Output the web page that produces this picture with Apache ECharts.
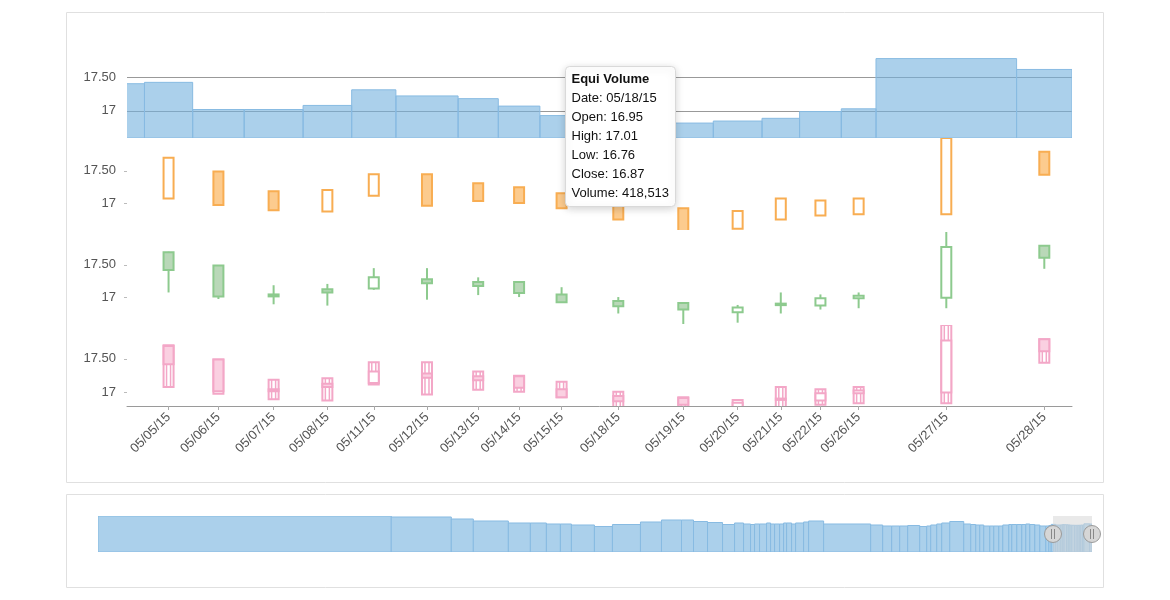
<!DOCTYPE html>
<html><head><meta charset="utf-8">
<script src="https://cdn.jsdelivr.net/npm/echarts@6/dist/echarts.min.js"></script>
<style>html,body{margin:0;padding:0;background:#fff}#c{width:1170px;height:600px}</style>
</head><body><div id="c"></div>
<script>
// ---------- data (visible period) ----------
const dates   = ['05/04/15','05/05/15','05/06/15','05/07/15','05/08/15','05/11/15','05/12/15','05/13/15','05/14/15','05/15/15','05/18/15','05/19/15','05/20/15','05/21/15','05/22/15','05/26/15','05/27/15','05/28/15'];
const opens   = [17.30,17.69,17.49,17.05,17.13,17.14,17.28,17.24,17.24,17.05,16.95,16.92,16.78,16.91,16.88,16.99,17.00,17.79];
const highs   = [17.55,17.70,17.49,17.19,17.21,17.45,17.45,17.31,17.25,17.16,17.01,16.93,16.89,17.08,17.05,17.08,18.00,17.79];
const lows    = [17.20,17.08,16.98,16.90,16.88,17.12,16.97,17.04,17.01,16.93,16.76,16.58,16.62,16.76,16.82,16.84,16.84,17.44];
const closes  = [17.40,17.42,17.02,17.02,17.08,17.31,17.22,17.18,17.07,16.93,16.87,16.82,16.85,16.89,16.99,17.03,17.77,17.61];
const volumes = [362000,288200,307900,352200,290600,264300,371900,240400,248700,259500,418513,358700,291200,224800,249300,207500,840700,331200];
// ---------- earlier history (navigator only) ----------
const histVolumes = [42485000,8700000,3190000,5075000,3190000,2320000,2030000,1595000,3335000,2610000,4060000,3045000,2900000,1740000,2030000,2175000,1740000,1305000,1015000,580000,725000,1015000,580000,580000,725000,580000,435000,725000,580000,1160000,725000,2175000,6815000,1740000,1305000,1160000,1160000,1740000,1015000,580000,870000,725000,1160000,2030000,1015000,725000,580000,580000,870000,580000,725000,580000,870000,435000,725000,725000,580000,580000,725000,725000,870000,435000,348000];
const histCloses  = [22.70,22.07,20.81,19.55,18.29,18.29,17.66,17.66,17.03,16.08,17.34,18.92,20.18,20.18,19.23,18.60,17.34,18.29,17.66,17.34,17.66,17.66,18.29,17.66,17.66,17.66,18.29,18.29,17.66,18.29,18.92,19.55,17.66,17.03,16.40,16.40,16.40,16.71,16.08,16.40,17.03,17.66,18.29,19.23,17.66,17.34,17.03,17.03,16.40,16.40,16.40,16.40,17.03,17.34,17.34,17.34,17.34,17.66,17.34,17.03,16.40,16.40,16.71];
const priceTicks = [17, 17.5];
const tipDate = '05/18/15';
const seriesTitle = 'Equi Volume';

// ---------- config ----------
const windowVolume = 5650000;
const paneRange = [[16.6,18.0],[16.6,18.0],[16.6,18.0],[16.8,18.0]];
const FONT = '"Liberation Sans", Arial, Helvetica, sans-serif';

// ---------- derived ----------
const allVol = histVolumes.concat(volumes);
const allClose = histCloses.concat(closes);
const starts = [], ends = [];
let cum = 0;
allVol.forEach(v => { starts.push(cum); cum += v; ends.push(cum); });
const total = cum;
const nH = histVolumes.length;
const xMax = total, xMin = total - windowVolume;
const centers = dates.map((d,i) => (starts[nH+i] + ends[nH+i]) / 2);
const visCenters = centers.filter(c => c > xMin && c < xMax);
const fmtTick = v => Number.isInteger(v) ? String(v) : v.toFixed(2);
const dateFmt = v => { let best = 0, bd = Infinity; centers.forEach((c,i)=>{const d=Math.abs(c-v); if(d<bd){bd=d;best=i;}}); return dates[best]; };

const BAR_FILL = 'rgba(115,177,222,0.6)', BAR_STROKE = '#88bbe2';
const OR_STROKE = '#f8ad52', OR_FILL = '#fccb8e';
const GR_STROKE = '#8dca8e', GR_FILL = '#b9d8b8';
const PK_STROKE = '#f3a7c7', PK_FILL = '#fad0e1';
const HW = 5; // half width of candles

const eqData = dates.map((d,i) => [starts[nH+i], ends[nH+i], closes[i]]);
const ohlcData = dates.map((d,i) => [centers[i], opens[i], highs[i], lows[i], closes[i], i>0 ? closes[i-1] : closes[i]]);
const navData = allVol.map((v,i) => [starts[i], ends[i], allClose[i]]);
const navMax = Math.max.apply(null, allClose);

function gridLines(params, api) {
  const v = api.value(0);
  const a = api.coord([xMin, v]), b = api.coord([xMax, v]);
  return {type:'line', shape:{x1:a[0], y1:Math.round(a[1])+0.5, x2:b[0], y2:Math.round(a[1])+0.5}, style:{stroke:'#999', lineWidth:1}};
}
function eqBar(base, fill, stroke) {
  return function(params, api) {
    const p0 = api.coord([api.value(0), api.value(2)]);
    const p1 = api.coord([api.value(1), base]);
    return {type:'rect', shape:{x:p0[0], y:p0[1], width:p1[0]-p0[0], height:p1[1]-p0[1]}, style:{fill:fill, stroke:stroke, lineWidth:1}};
  };
}
function orangeItem(params, api) {
  const x = api.coord([api.value(0), api.value(2)])[0];
  const yh = api.coord([api.value(0), api.value(2)])[1];
  const yl = api.coord([api.value(0), api.value(3)])[1];
  const up = api.value(4) > api.value(5);
  return {type:'rect', shape:{x:x-HW, y:yh, width:HW*2, height:yl-yh}, style:{fill: up ? '#fff' : OR_FILL, stroke:OR_STROKE, lineWidth:2}};
}
function greenItem(params, api) {
  const c = api.value(0);
  const x = api.coord([c, 0])[0];
  const yo = api.coord([c, api.value(1)])[1], yh = api.coord([c, api.value(2)])[1];
  const yl = api.coord([c, api.value(3)])[1], yc = api.coord([c, api.value(4)])[1];
  const up = api.value(4) >= api.value(1);
  const top = Math.min(yo, yc), bot = Math.max(yo, yc);
  return {type:'group', children:[
    {type:'line', shape:{x1:x, y1:yh, x2:x, y2:yl}, style:{stroke:GR_STROKE, lineWidth:2}},
    {type:'rect', shape:{x:x-HW, y:top, width:HW*2, height:Math.max(bot-top,1.5)}, style:{fill: up ? '#fff' : GR_FILL, stroke:GR_STROKE, lineWidth:2}}
  ]};
}
function pinkItem(params, api) {
  const c = api.value(0);
  const x = api.coord([c, 0])[0];
  const yo = api.coord([c, api.value(1)])[1], yh = api.coord([c, api.value(2)])[1];
  const yl = api.coord([c, api.value(3)])[1], yc = api.coord([c, api.value(4)])[1];
  const up = api.value(4) >= api.value(1);
  const top = Math.min(yo, yc), bot = Math.max(yo, yc);
  const ch = [
    {type:'rect', shape:{x:x-HW, y:yh, width:HW*2, height:yl-yh}, style:{fill:'#fff', stroke:PK_STROKE, lineWidth:2}},
    {type:'rect', shape:{x:x-HW, y:top, width:HW*2, height:bot-top}, style:{fill: up ? '#fff' : PK_FILL, stroke:PK_STROKE, lineWidth:2}}
  ];
  [[yh, top], [bot, yl]].forEach(seg => {
    if (seg[1] - seg[0] > 3) {
      [-2, 2].forEach(dx => ch.push({type:'line', shape:{x1:x+dx, y1:seg[0], x2:x+dx, y2:seg[1]}, style:{stroke:PK_STROKE, lineWidth:1.5}}));
    }
  });
  return {type:'group', children: ch};
}
function selItem(params, api) {
  const a = api.coord([api.value(0), navMax]), b = api.coord([api.value(1), 0]);
  const ym = (a[1] + b[1]) / 2;
  const handle = x => ({type:'group', children:[
    {type:'circle', shape:{cx:x, cy:ym, r:8.5}, style:{fill:'#d6d6d6', stroke:'#9a9a9a', lineWidth:1}},
    {type:'line', shape:{x1:x-1.5, y1:ym-5, x2:x-1.5, y2:ym+5}, style:{stroke:'#888', lineWidth:1}},
    {type:'line', shape:{x1:x+1.5, y1:ym-5, x2:x+1.5, y2:ym+5}, style:{stroke:'#888', lineWidth:1}}
  ]});
  return {type:'group', children:[
    {type:'rect', shape:{x:a[0], y:a[1], width:b[0]-a[0], height:b[1]-a[1]}, style:{fill:'rgba(215,215,215,0.55)'}},
    handle(a[0]), handle(b[0])
  ]};
}

function yAxis(gi, r, ticks) {
  return {gridIndex:gi, type:'value', min:r[0], max:r[1], axisLine:{show:false}, splitLine:{show:false},
    axisTick:{show:ticks, customValues:priceTicks, length:3, lineStyle:{color:'#bbb'}},
    axisLabel:{customValues:priceTicks, formatter:fmtTick, color:'#555', fontSize:13, fontFamily:FONT, margin:11}};
}
function hiddenX(gi) {
  return {gridIndex:gi, type:'value', min:xMin, max:xMax, show:false, splitLine:{show:false}};
}

const ti = dates.indexOf(tipDate);
const tipLines = [
  'Date: ' + dates[ti],
  'Open: ' + opens[ti].toFixed(2),
  'High: ' + highs[ti].toFixed(2),
  'Low: ' + lows[ti].toFixed(2),
  'Close: ' + closes[ti].toFixed(2),
  'Volume: ' + volumes[ti].toLocaleString('en-US')
];
const tipChildren = [
  {type:'rect', z:100, zlevel:1, shape:{x:0, y:0, width:110, height:140, r:4}, style:{fill:'#fff', stroke:'#d9d9d9', lineWidth:1, shadowBlur:8, shadowColor:'rgba(0,0,0,0.18)', shadowOffsetY:2}},
  {type:'text', z:101, zlevel:1, x:6, y:13, style:{text:seriesTitle, font:'bold 13px ' + FONT, fill:'#111', verticalAlign:'middle'}}
];
tipLines.forEach((t,k) => tipChildren.push({type:'text', z:101, zlevel:1, x:6, y:32 + 19*k, style:{text:t, font:'13px ' + FONT, fill:'#111', verticalAlign:'middle'}}));

const chart = echarts.init(document.getElementById('c'), null, {renderer:'canvas'});
chart.setOption({
  animation:false,
  textStyle:{fontFamily:FONT},
  grid:[
    {left:127, right:98, top:43, height:95},
    {left:127, right:98, top:138, height:92},
    {left:127, right:98, top:232, height:92},
    {left:127, right:98, top:325, height:81},
    {left:98, right:78, top:516, height:36}
  ],
  xAxis:[hiddenX(0), hiddenX(1), hiddenX(2),
    {gridIndex:3, type:'value', min:xMin, max:xMax, splitLine:{show:false},
     axisLine:{show:true, lineStyle:{color:'#9a9a9a'}},
     axisTick:{show:true, customValues:visCenters, length:4, lineStyle:{color:'#aaa'}},
     axisLabel:{customValues:visCenters, rotate:45, formatter:dateFmt, color:'#555', fontSize:13, fontFamily:FONT, margin:9}},
    {gridIndex:4, type:'value', min:0, max:total, show:false, splitLine:{show:false}}
  ],
  yAxis:[yAxis(0, paneRange[0], false), yAxis(1, paneRange[1], true), yAxis(2, paneRange[2], true), yAxis(3, paneRange[3], true),
    {gridIndex:4, type:'value', min:0, max:navMax, show:false, splitLine:{show:false}}],
  series:[
    {type:'custom', xAxisIndex:0, yAxisIndex:0, z:1, silent:true, data:priceTicks.map(v=>[v]), encode:{y:0}, renderItem:gridLines},
    {type:'custom', xAxisIndex:0, yAxisIndex:0, z:2, clip:true, data:eqData, encode:{x:[0,1], y:2}, renderItem:eqBar(paneRange[0][0], BAR_FILL, BAR_STROKE)},
    {type:'custom', xAxisIndex:1, yAxisIndex:1, clip:true, data:ohlcData, encode:{x:0, y:[2,3]}, renderItem:orangeItem},
    {type:'custom', xAxisIndex:2, yAxisIndex:2, clip:true, data:ohlcData, encode:{x:0, y:[2,3]}, renderItem:greenItem},
    {type:'custom', xAxisIndex:3, yAxisIndex:3, clip:true, data:ohlcData, encode:{x:0, y:[2,3]}, renderItem:pinkItem},
    {type:'custom', xAxisIndex:4, yAxisIndex:4, clip:true, data:navData, encode:{x:[0,1], y:2}, renderItem:eqBar(0, 'rgb(171,208,235)', BAR_STROKE)},
    {type:'custom', xAxisIndex:4, yAxisIndex:4, z:5, silent:true, data:[[xMin, xMax]], encode:{x:[0,1]}, renderItem:selItem}
  ],
  graphic:[
    {type:'rect', z:-1, shape:{x:66.5, y:12.5, width:1037, height:470}, style:{fill:'none', stroke:'#e0e0e0', lineWidth:1}},
    {type:'rect', z:-1, shape:{x:66.5, y:494.5, width:1037, height:93}, style:{fill:'none', stroke:'#e0e0e0', lineWidth:1}},
    {type:'group', left:565, top:66, z:100, zlevel:1, children:tipChildren}
  ]
});
</script></body></html>
